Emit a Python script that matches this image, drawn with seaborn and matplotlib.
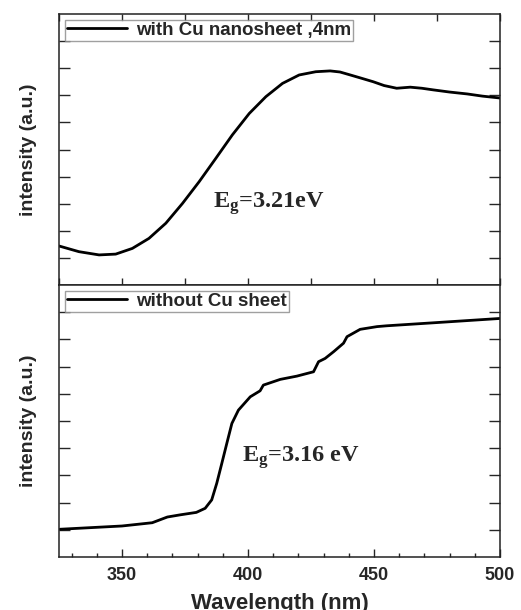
import numpy as np
import pandas as pd
import matplotlib
matplotlib.use("Agg")
import matplotlib.pyplot as plt
import seaborn as sns
from matplotlib.ticker import MultipleLocator

# Data
wl_top = [325, 332.9, 340.9, 347.5, 354.1, 360.7, 367.4, 374, 380.6, 387.2, 393.8, 400.5, 407.1, 413.7, 420.3, 426.9, 432.6, 436.5, 440.6, 445, 449.7, 454, 459, 464.4, 469, 473.5, 480, 487, 493, 500]
int_top = [1.44, 1.23, 1.11, 1.14, 1.35, 1.72, 2.28, 3.01, 3.81, 4.67, 5.54, 6.33, 6.95, 7.44, 7.75, 7.87, 7.9, 7.86, 7.75, 7.63, 7.5, 7.36, 7.26, 7.3, 7.26, 7.2, 7.12, 7.05, 6.97, 6.9]

wl_bot = [325.4, 350, 362, 366, 368, 373.1, 379.5, 383, 385.6, 387.6, 389.6, 391.6, 393.6, 396.2, 400.9, 404.8, 406.1, 412.8, 419.4, 426, 428, 430.6, 434, 437.9, 439.3, 444.5, 451.2, 455, 473.5, 500]
int_bot = [1.02, 1.14, 1.26, 1.4, 1.47, 1.55, 1.64, 1.79, 2.1, 2.71, 3.44, 4.18, 4.91, 5.4, 5.89, 6.11, 6.32, 6.53, 6.65, 6.81, 7.18, 7.3, 7.55, 7.86, 8.1, 8.37, 8.47, 8.5, 8.61, 8.77]

label_top = "with Cu nanosheet ,4nm"
label_bot = "without Cu sheet"
eg_top = "3.21eV"
eg_bot = "3.16 eV"
xticks_major = [350, 400, 450, 500]

sns.set_theme(style="ticks")
plt.rcParams["font.family"] = ["Liberation Sans", "DejaVu Sans"]
plt.rcParams["mathtext.fontset"] = "custom"
plt.rcParams["mathtext.bf"] = "Liberation Serif:bold"
plt.rcParams["mathtext.rm"] = "Liberation Serif:bold"

fig = plt.figure(figsize=(5.21, 6.10), dpi=100)
W, H = 521, 610
L, R = 59 / W, 500 / W
ax1 = fig.add_axes([L, 1 - 285 / H, R - L, 271 / H])
ax2 = fig.add_axes([L, 1 - 557 / H, R - L, 272 / H])

df_top = pd.DataFrame({"wl": wl_top, "I": int_top, "s": label_top})
df_bot = pd.DataFrame({"wl": wl_bot, "I": int_bot, "s": label_bot})

sns.lineplot(data=df_top, x="wl", y="I", hue="s", palette=["black"], lw=2, ax=ax1, sort=False)
sns.lineplot(data=df_bot, x="wl", y="I", hue="s", palette=["black"], lw=2, ax=ax2, sort=False)

for ax in (ax1, ax2):
    ax.set_xlim(325, 500)
    ax.set_ylim(0, 10)
    ax.set_yticks(range(1, 10))
    ax.set_yticklabels([])
    for sp in ax.spines.values():
        sp.set_visible(True)
        sp.set_color("#222222")
        sp.set_linewidth(1.1)
    ax.set_ylabel("intensity (a.u.)", fontsize=14, fontweight="bold", labelpad=12)
    leg = ax.legend(loc="upper left", frameon=True, fancybox=False,
                    prop={"weight": "bold", "size": 13.5}, handlelength=3.2,
                    borderpad=0.1, borderaxespad=0.3, handletextpad=0.5)
    leg.get_frame().set_edgecolor("#888888")
    leg.get_frame().set_linewidth(1.0)
    leg.set_title(None)

ax1.xaxis.set_major_locator(MultipleLocator(25))
ax1.set_xticklabels([])
ax1.tick_params(axis="x", which="major", direction="in", top=True, bottom=True, length=5, width=1)
ax1.tick_params(axis="y", which="major", direction="in", left=True, right=True, length=8, width=1)
ax1.set_xlabel("")

ax2.set_xticks(xticks_major)
ax2.xaxis.set_minor_locator(MultipleLocator(10))
ax2.tick_params(axis="x", which="major", direction="in", top=False, bottom=True, length=6, width=1,
                labelsize=13, pad=7)
ax2.tick_params(axis="x", which="minor", direction="in", top=False, bottom=True, length=3, width=1)
ax2.tick_params(axis="y", which="major", direction="in", left=True, right=True, length=8, width=1)
for t in ax2.get_xticklabels():
    t.set_fontweight("bold")
ax2.set_xlabel("Wavelength (nm)", fontsize=16, fontweight="bold", labelpad=7)

ax1.text(386.2, 2.85, r"$\mathbf{E_g}$=" + eg_top, fontsize=17.5, fontweight="bold",
         family="Liberation Serif", ha="left", va="baseline")
ax2.text(397.7, 3.5, r"$\mathbf{E_g}$=" + eg_bot, fontsize=17.5, fontweight="bold",
         family="Liberation Serif", ha="left", va="baseline")

fig.savefig("out.png", dpi=100)
